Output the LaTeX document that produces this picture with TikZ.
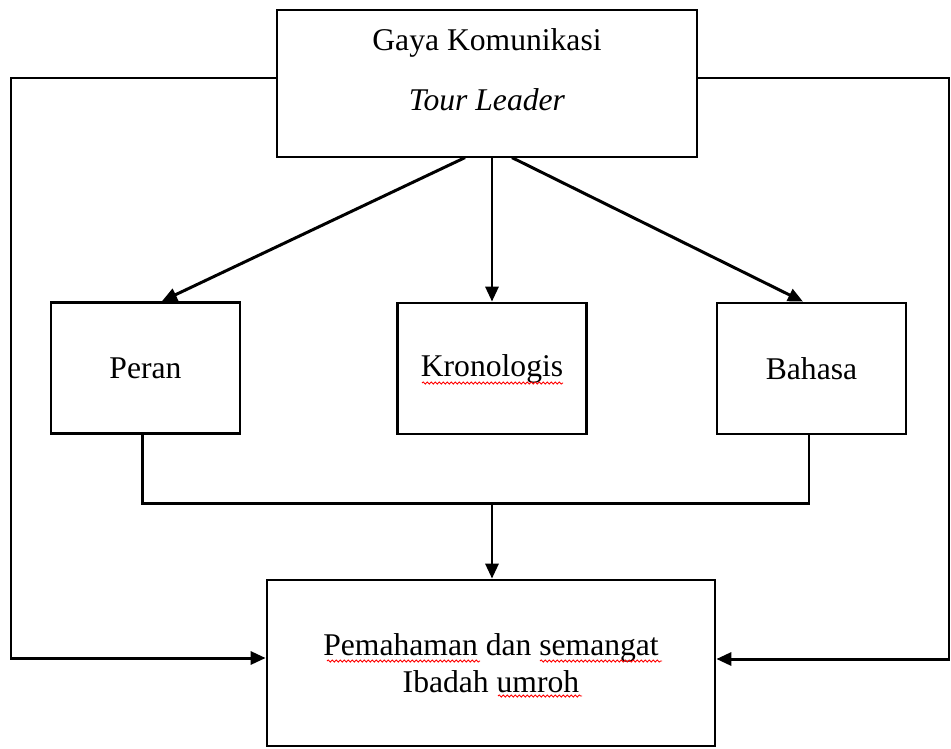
\documentclass[tikz,border=0pt]{standalone}
\usepackage{fontspec}
\setmainfont{Liberation Serif}
\usetikzlibrary{arrows.meta,positioning,calc,decorations.pathmorphing}

\begin{document}
\begin{tikzpicture}[x=0.02cm,y=-0.02cm,
kotak/.style={draw,line width=1.6pt,minimum width=3.78cm,minimum height=2.62cm,inner sep=0pt},
teks/.style={font=\fontsize{18pt}{20pt}\selectfont,inner sep=0pt},
garis/.style={line width=1.7pt},
panah/.style={garis,-{Triangle[length=0.3cm,width=0.26cm]}},
salah/.style={red,line width=0.5pt,decorate,decoration={snake,segment length=0.08cm,amplitude=0.022cm}}]
\useasboundingbox (0,0) rectangle (951,748);
% Kotak atas
\node[draw,line width=0.7pt,minimum width=8.4cm,minimum height=2.94cm] (top) at (487,83.5) {};
\node[teks] (topa) at (487,43) {Gaya Komunikasi};
\node[teks] (topb) at (487,100) {\textit{Tour Leader}};
% Tiga faktor
\node[kotak,teks] (peran) at (145.5,368) {Peran};
\node[kotak,teks] (krono) at (492,368.5) {Kronologis};
\node[kotak,teks] (bahasa) at (811.5,368.5) {Bahasa};
% Kotak bawah
\node[kotak,teks,align=center,minimum width=8.96cm,minimum height=3.32cm] (hasil) at (491,663)
  {Pemahaman dan semangat\\[1pt]Ibadah umroh};
% Titik bantu
\coordinate (kiriatas) at (11,78);
\coordinate (kiribawah) at (11,658);
\coordinate (kananatas) at (949,78);
\coordinate (kananbawah) at (949,659);
\coordinate (gabung) at (492,503);
% Panah dari kotak atas
\draw[panah] ($(top.south)+(-22,0)$) -- ($(peran.north)+(16.5,0)$);
\draw[panah] (top.south -| krono.north) -- (krono.north);
\draw[panah] ($(top.south)+(25,0)$) -- ($(bahasa.north)+(-8.5,0)$);
% Jalur samping
\draw[panah] (top.west |- kiriatas) -- (kiriatas) -- (kiribawah) -- (kiribawah -| hasil.west);
\draw[panah] (top.east |- kananatas) -- (kananatas) -- (kananbawah) -- (kananbawah -| hasil.east);
% Gabungan ke bawah
\draw[garis] ($(peran.south)+(-3,0)$) |- (gabung) -| ($(bahasa.south)+(-2.5,0)$);
\draw[panah] (gabung) -- (hasil.north -| gabung);
% Garis ejaan merah
\draw[salah] (422,383) -- (563,383);
\draw[salah] (327,661) -- (480,661);
\draw[salah] (540,661) -- (662,661);
\draw[salah] (498,696) -- (582,696);
\end{tikzpicture}
\end{document}
